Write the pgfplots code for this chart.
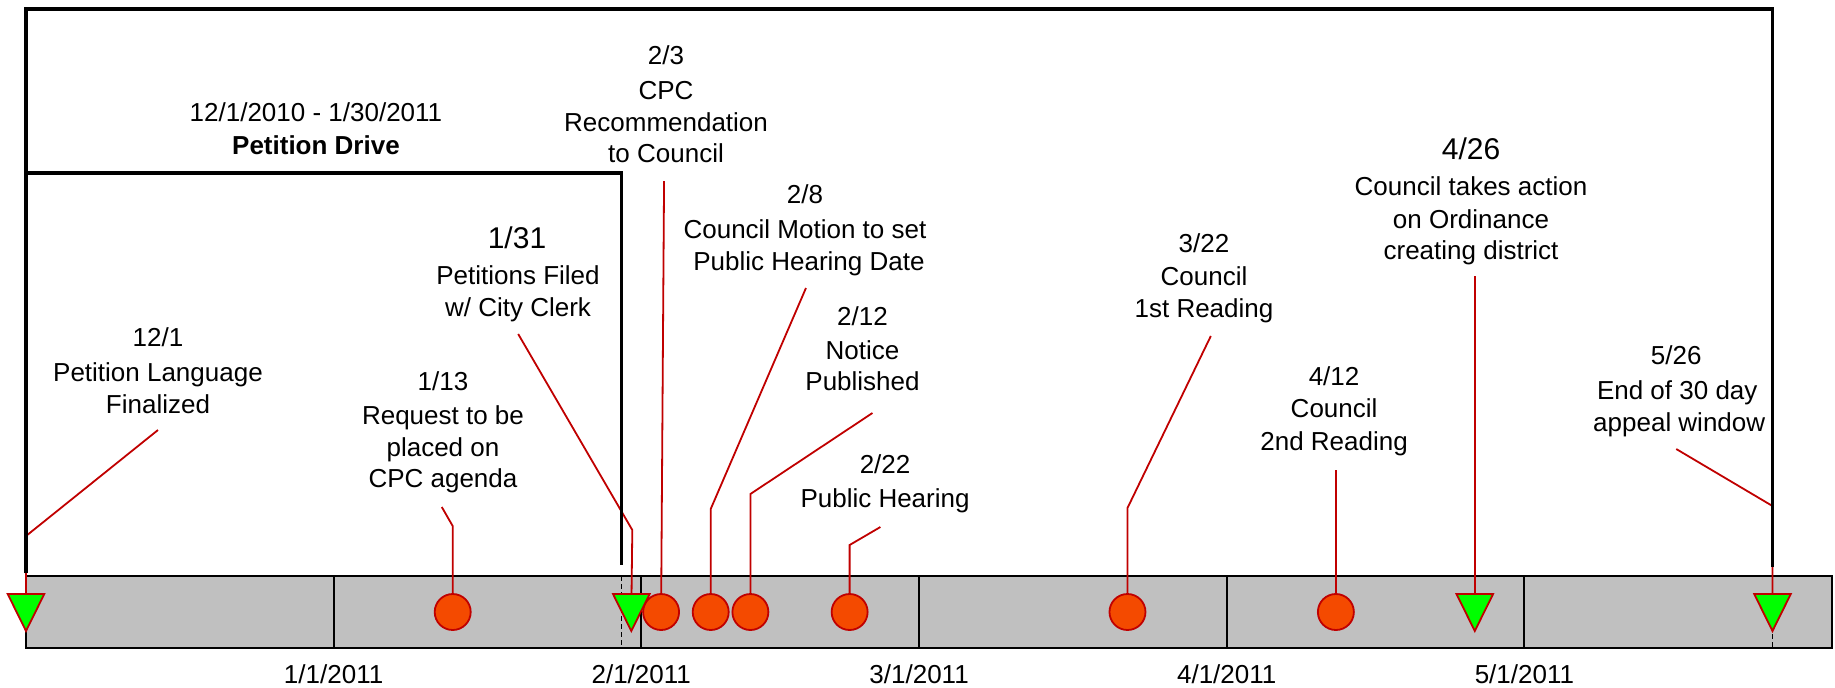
\documentclass[border=0pt]{standalone}
\usepackage{pgfplots}
\pgfplotsset{compat=1.18}
\usepackage{fontspec}
\setmainfont{Liberation Sans}
\definecolor{barGray}{RGB}{192,192,192}
\definecolor{lineRed}{RGB}{192,0,0}
\definecolor{dotFill}{RGB}{244,74,0}
\definecolor{triGreen}{RGB}{0,255,0}
\pgfdeclareplotmark{dtri}{%
  \pgfpathmoveto{\pgfqpoint{-9.15pt}{9.25pt}}%
  \pgfpathlineto{\pgfqpoint{9.15pt}{9.25pt}}%
  \pgfpathlineto{\pgfqpoint{0pt}{-9.25pt}}%
  \pgfpathclose
  \pgfusepathqfillstroke}
\newcommand{\lab}[4][]{\node[anchor=base,inner sep=0pt,font=\fontsize{13}{16}\selectfont,#1] at (axis cs:#2,#3) {#4};}
\newcommand{\blab}[3]{\node[anchor=base,inner sep=0pt,font=\fontsize{15}{18}\selectfont] at (axis cs:#1,#2) {#3};}
\begin{document}
\begin{tikzpicture}
\begin{axis}[
  width=917.5pt, height=343.5pt, scale only axis,
  xmin=-2.62, xmax=182.30, ymin=0, ymax=687, y dir=reverse,
  hide axis, clip=false]
% timeline bar
\addplot[fill=barGray, draw=black, line width=1.2pt] coordinates {(0,576) (182,576) (182,648) (0,648) (0,576)};
% month dividers
\addplot[black, line width=1pt] coordinates {(31,576) (31,648)};
\addplot[black, line width=1pt] coordinates {(62,576) (62,648)};
\addplot[black, line width=1pt] coordinates {(90,576) (90,648)};
\addplot[black, line width=1pt] coordinates {(121,576) (121,648)};
\addplot[black, line width=1pt] coordinates {(151,576) (151,648)};
% connectors
\addplot[lineRed, line width=0.9pt] coordinates {(0,612) (0,536) (13.30,430)};
\addplot[lineRed, line width=0.9pt] coordinates {(43,612) (43,526) (41.9,507)};
\addplot[lineRed, line width=0.9pt] coordinates {(61,612) (61.1,530) (49.6,334)};
\addplot[lineRed, line width=0.9pt] coordinates {(64,612) (64.3,181)};
\addplot[lineRed, line width=0.9pt] coordinates {(69,612) (69,509) (78.6,288)};
\addplot[lineRed, line width=0.9pt] coordinates {(73,612) (73,494) (85.3,413)};
\addplot[lineRed, line width=0.9pt] coordinates {(83,612) (83,545) (86.1,527)};
\addplot[lineRed, line width=0.9pt] coordinates {(111,612) (111,508) (119.4,336)};
\addplot[lineRed, line width=0.9pt] coordinates {(132,612) (132,470)};
\addplot[lineRed, line width=0.9pt] coordinates {(146,612) (146,276)};
\addplot[lineRed, line width=0.9pt] coordinates {(176,612) (176,506) (166.3,449)};
% brackets
\addplot[black, line width=1.7pt, line join=miter] coordinates {(0,573) (0,9) (176,9) (176,567)};
\addplot[black, line width=1.7pt, line join=miter] coordinates {(0,573) (0,173) (60,173) (60,565)};
% events
\addplot[only marks, mark=*, mark size=9pt, mark options={fill=dotFill, draw=lineRed, line width=0.9pt}]
  coordinates {(43,612) (64,612) (69,612) (73,612) (83,612) (111,612) (132,612)};
\addplot[only marks, mark=dtri, mark options={fill=triGreen, draw=lineRed, line width=0.9pt}]
  coordinates {(0,612.5) (61,612.5) (146,612.5) (176,612.5)};
% dashed markers
\addplot[black, line width=0.8pt, dash pattern=on 2.5pt off 1.5pt] coordinates {(0,594) (0,650)};
\addplot[black, line width=0.8pt, dash pattern=on 2.5pt off 1.5pt] coordinates {(60,576) (60,648)};
\addplot[black, line width=0.8pt, dash pattern=on 2.5pt off 1.5pt] coordinates {(176,594) (176,650)};
% labels
\lab{13.30}{346}{12/1}
\lab{13.30}{381}{Petition Language}
\lab{13.30}{413}{Finalized}
\lab{42.02}{390}{1/13}
\lab{42.02}{424}{Request to be}
\lab{42.02}{456}{placed on}
\lab{42.02}{487}{CPC agenda}
\blab{49.48}{248}{1/31}
\lab{49.58}{284}{Petitions Filed}
\lab{49.58}{316}{w/ City Clerk}
\lab{64.5}{64}{2/3}
\lab{64.5}{99}{CPC}
\lab{64.5}{131}{Recommendation}
\lab{64.5}{162}{to Council}
\lab{78.5}{203}{2/8}
\lab{78.5}{238}{Council Motion to set}
\lab{78.9}{270}{Public Hearing Date}
\lab{84.30}{325}{2/12}
\lab{84.30}{359}{Notice}
\lab{84.30}{390.5}{Published}
\lab{86.57}{473.6}{2/22}
\lab{86.57}{507.5}{Public Hearing}
\lab{118.71}{252}{3/22}
\lab{118.71}{285}{Council}
\lab{118.71}{317}{1st Reading}
\lab{131.82}{385}{4/12}
\lab{131.82}{417}{Council}
\lab{131.82}{450}{2nd Reading}
\blab{145.62}{159}{4/26}
\lab{145.62}{195}{Council takes action}
\lab{145.62}{228}{on Ordinance}
\lab{145.62}{259}{creating district}
\lab{166.3}{364}{5/26}
\lab{166.4}{399}{End of 30 day}
\lab{166.6}{431}{appeal window}
\lab{29.22}{121}{12/1/2010 - 1/30/2011}
\lab[font=\fontsize{13}{16}\selectfont\bfseries]{29.22}{154}{Petition Drive}
\lab{31}{683}{1/1/2011}
\lab{62}{683}{2/1/2011}
\lab{90}{683}{3/1/2011}
\lab{121}{683}{4/1/2011}
\lab{151}{683}{5/1/2011}
\end{axis}
\pgfresetboundingbox
\useasboundingbox (current axis.south west) rectangle (current axis.north east);
\end{tikzpicture}
\end{document}
